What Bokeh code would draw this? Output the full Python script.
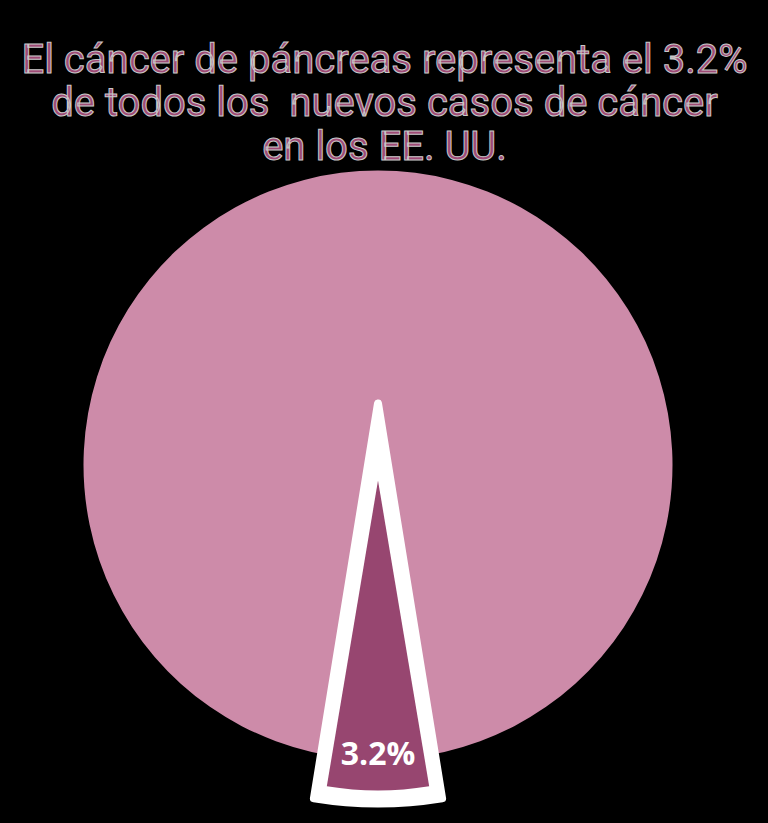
import math
from bokeh.plotting import figure
from bokeh.models import Range1d, ColumnDataSource
from bokeh.core.properties import value
from bokeh.embed import file_html
from bokeh.resources import INLINE

# ---- data ----
categories = ["Otros cánceres", "Cáncer de páncreas"]
shares = [96.8, 3.2]
slice_label = "3.2%"
title_lines = [
    "El cáncer de páncreas representa el 3.2%",
    "de todos los\u00a0 nuevos casos de cáncer",
    "en los EE. UU.",
]

# ---- style / layout ----
W, H = 768, 823
BG = "#000000"
MAIN = "#cd8ba9"
DARK = "#974670"
TITLE_COL = "#9e4a75"
EXAG = 1.65  # visual widening of the thin slice, as in the reference

p = figure(width=W, height=H, output_backend="svg", toolbar_location=None,
           x_range=Range1d(0, W), y_range=Range1d(0, H), min_border=0)
p.axis.visible = False
p.grid.visible = False
p.background_fill_color = BG
p.border_fill_color = BG
p.outline_line_color = None

cx, cy, R = 377.5, 358.5, 294.5
down = -math.pi / 2
small = shares[1] / sum(shares) * 2 * math.pi
half_small = small * EXAG / 2

# main slice
p.wedge(x=[cx], y=[cy], radius=R,
        start_angle=[down + small / 2], end_angle=[down - small / 2 + 2 * math.pi],
        fill_color=MAIN, line_color=None)

# white halo for exploded slice
p.wedge(x=[cx], y=[420], radius=400,
        start_angle=[down - half_small * 0.97], end_angle=[down + half_small * 0.97],
        fill_color="#ffffff", line_color="#ffffff", line_width=8, line_join="round")

# exploded slice
p.wedge(x=[cx], y=[343], radius=310,
        start_angle=[down - half_small], end_angle=[down + half_small],
        fill_color=DARK, line_color=None)

p.text(x=[cx], y=[71], text=[slice_label], text_color="#ffffff",
       text_font=value("Open Sans"), text_font_style="bold", text_font_size="32px",
       text_align="center", text_baseline="alphabetic")

src = ColumnDataSource(dict(x=[384, 384, 384], y=[764, 721, 677], t=title_lines))
p.text(x="x", y="y", text="t", source=src, text_color=TITLE_COL,
       text_font=value("Roboto"), text_font_size="40px",
       text_align="center", text_baseline="alphabetic",
       text_outline_color="#c8c8c8")

html = file_html(p, INLINE)
html = html.replace("<head>", "<head><style>body{background:#000000;}</style>", 1)
open("out.html", "w").write(html)
